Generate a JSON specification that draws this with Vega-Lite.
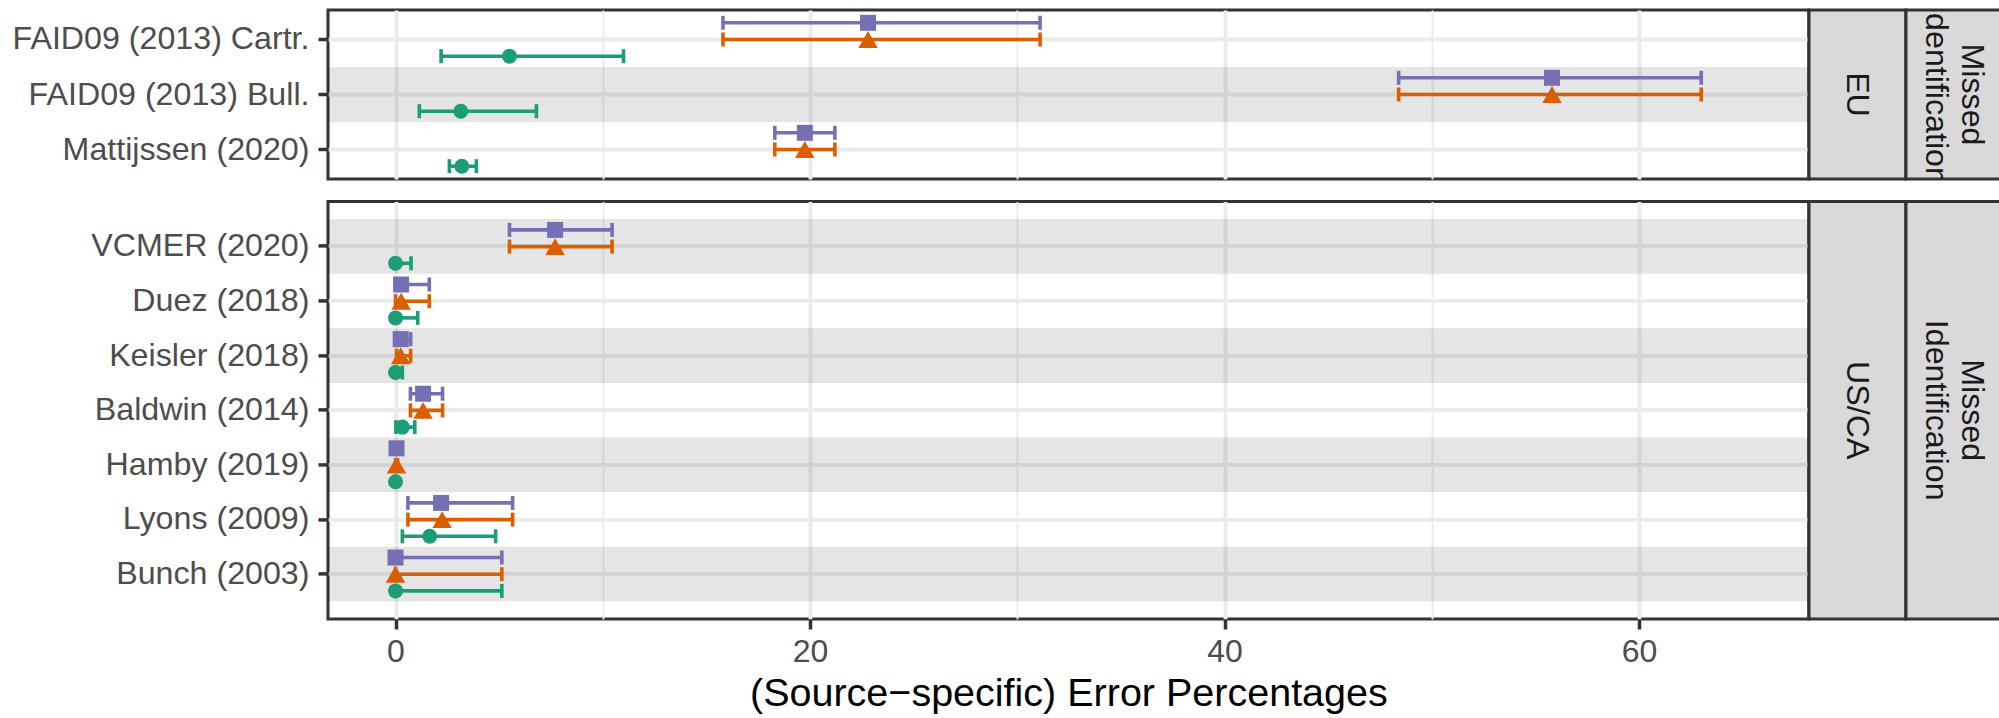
{
  "$schema": "https://vega.github.io/schema/vega-lite/v6.json",
  "padding": {"left": 10, "top": 8, "right": 0, "bottom": 0},
  "config": {
    "font": "Liberation Sans",
    "view": {"stroke": null},
    "text": {"font": "Liberation Sans"}
  },
  "datasets": {
    "errors": [
      {"region": "EU", "study": "FAID09 (2013) Cartr.", "series": "A", "est": 22.8, "lo": 15.8, "hi": 31.1},
      {"region": "EU", "study": "FAID09 (2013) Cartr.", "series": "B", "est": 22.8, "lo": 15.8, "hi": 31.1},
      {"region": "EU", "study": "FAID09 (2013) Cartr.", "series": "C", "est": 5.5, "lo": 2.2, "hi": 11.0},
      {"region": "EU", "study": "FAID09 (2013) Bull.", "series": "A", "est": 55.8, "lo": 48.4, "hi": 63.0},
      {"region": "EU", "study": "FAID09 (2013) Bull.", "series": "B", "est": 55.8, "lo": 48.4, "hi": 63.0},
      {"region": "EU", "study": "FAID09 (2013) Bull.", "series": "C", "est": 3.15, "lo": 1.15, "hi": 6.8},
      {"region": "EU", "study": "Mattijssen (2020)", "series": "A", "est": 19.75, "lo": 18.3, "hi": 21.2},
      {"region": "EU", "study": "Mattijssen (2020)", "series": "B", "est": 19.75, "lo": 18.3, "hi": 21.2},
      {"region": "EU", "study": "Mattijssen (2020)", "series": "C", "est": 3.2, "lo": 2.6, "hi": 3.9},
      {"region": "US/CA", "study": "VCMER (2020)", "series": "A", "est": 7.7, "lo": 5.5, "hi": 10.45},
      {"region": "US/CA", "study": "VCMER (2020)", "series": "B", "est": 7.7, "lo": 5.5, "hi": 10.45},
      {"region": "US/CA", "study": "VCMER (2020)", "series": "C", "est": 0.0, "lo": 0.0, "hi": 0.75},
      {"region": "US/CA", "study": "Duez (2018)", "series": "A", "est": 0.27, "lo": 0.0, "hi": 1.63},
      {"region": "US/CA", "study": "Duez (2018)", "series": "B", "est": 0.27, "lo": 0.0, "hi": 1.63},
      {"region": "US/CA", "study": "Duez (2018)", "series": "C", "est": 0.0, "lo": 0.0, "hi": 1.07},
      {"region": "US/CA", "study": "Keisler (2018)", "series": "A", "est": 0.25, "lo": 0.05, "hi": 0.73},
      {"region": "US/CA", "study": "Keisler (2018)", "series": "B", "est": 0.25, "lo": 0.05, "hi": 0.73},
      {"region": "US/CA", "study": "Keisler (2018)", "series": "C", "est": 0.0, "lo": 0.0, "hi": 0.33},
      {"region": "US/CA", "study": "Baldwin (2014)", "series": "A", "est": 1.33, "lo": 0.72, "hi": 2.27},
      {"region": "US/CA", "study": "Baldwin (2014)", "series": "B", "est": 1.33, "lo": 0.72, "hi": 2.27},
      {"region": "US/CA", "study": "Baldwin (2014)", "series": "C", "est": 0.33, "lo": 0.02, "hi": 0.93},
      {"region": "US/CA", "study": "Hamby (2019)", "series": "A", "est": 0.05, "lo": 0.0, "hi": 0.1},
      {"region": "US/CA", "study": "Hamby (2019)", "series": "B", "est": 0.05, "lo": 0.0, "hi": 0.1},
      {"region": "US/CA", "study": "Hamby (2019)", "series": "C", "est": 0.0, "lo": 0.0, "hi": 0.02},
      {"region": "US/CA", "study": "Lyons (2009)", "series": "A", "est": 2.2, "lo": 0.6, "hi": 5.65},
      {"region": "US/CA", "study": "Lyons (2009)", "series": "B", "est": 2.25, "lo": 0.6, "hi": 5.65},
      {"region": "US/CA", "study": "Lyons (2009)", "series": "C", "est": 1.65, "lo": 0.33, "hi": 4.83},
      {"region": "US/CA", "study": "Bunch (2003)", "series": "A", "est": 0.0, "lo": 0.0, "hi": 5.13},
      {"region": "US/CA", "study": "Bunch (2003)", "series": "B", "est": 0.0, "lo": 0.0, "hi": 5.13},
      {"region": "US/CA", "study": "Bunch (2003)", "series": "C", "est": 0.0, "lo": 0.0, "hi": 5.13}
    ],
    "bandsEU": [{"study": "FAID09 (2013) Bull."}],
    "bandsUS": [{"study": "VCMER (2020)"}, {"study": "Keisler (2018)"}, {"study": "Hamby (2019)"}, {"study": "Bunch (2003)"}]
  },
  "columns": 3,
  "spacing": {"row": 22.4, "column": 0},
  "bounds": "flush",
  "align": "each",
  "concat": [
    {
      "width": 1480.8,
      "height": 169,
      "view": {"fill": "white", "stroke": "#333333", "strokeWidth": 3},
      "layer": [
        {
          "data": {"name": "bandsEU"},
          "mark": {"type": "rect", "fill": "black", "opacity": 0.1},
          "encoding": {
            "y": {"field": "study", "type": "nominal", "sort": null, "title": null,
              "scale": {"domain": ["FAID09 (2013) Cartr.", "FAID09 (2013) Bull.", "Mattijssen (2020)"], "paddingInner": 0, "paddingOuter": 0.036},
              "axis": {"title": null, "zindex": 0, "domain": false, "ticks": true, "tickSize": 10, "tickWidth": 3.5, "tickColor": "#333333", "labelFontSize": 32.2, "labelColor": "#4d4d4d", "labelPadding": 9, "labelLimit": 1000, "grid": true, "gridColor": "#ebebeb", "gridWidth": 3.8, "bandPosition": 0.5}}
          }
        },
        {
          "data": {"name": "errors"},
          "transform": [{"filter": "datum.region === 'EU'"}],
          "encoding": {
            "y": {"field": "study", "type": "nominal", "sort": null, "title": null,
              "scale": {"domain": ["FAID09 (2013) Cartr.", "FAID09 (2013) Bull.", "Mattijssen (2020)"], "paddingInner": 0, "paddingOuter": 0.036},
              "axis": {"title": null, "zindex": 0, "domain": false, "ticks": true, "tickSize": 10, "tickWidth": 3.5, "tickColor": "#333333", "labelFontSize": 32.2, "labelColor": "#4d4d4d", "labelPadding": 9, "labelLimit": 1000, "grid": true, "gridColor": "#ebebeb", "gridWidth": 3.8, "bandPosition": 0.5}},
            "yOffset": {"field": "series", "type": "nominal", "scale": {"domain": ["A", "B", "C"], "paddingInner": 0, "paddingOuter": 0.148}},
            "color": {"field": "series", "type": "nominal", "legend": null, "scale": {"domain": ["A", "B", "C"], "range": ["#7570B3", "#D95F02", "#1B9E77"]}}
          },
          "layer": [
            {
              "mark": {"type": "rule", "strokeWidth": 3.6, "strokeCap": "butt"},
              "encoding": {
                "x": {"field": "lo", "type": "quantitative", "title": null, "scale": {"domain": [-3.257, 68.19], "nice": false, "zero": false},
                  "axis": {"title": null, "zindex": 0, "domain": false, "ticks": false, "labels": false, "grid": true, "values": [0, 10, 20, 30, 40, 50, 60], "gridColor": "#ebebeb", "gridWidth": {"condition": {"test": "datum.value % 20 === 0", "value": 3.8}, "value": 1.9}}},
                "x2": {"field": "hi"}
              }
            },
            {
              "mark": {"type": "tick", "thickness": 3.6, "size": 14, "opacity": 1},
              "encoding": {
                "x": {"field": "lo", "type": "quantitative", "title": null, "scale": {"domain": [-3.257, 68.19], "nice": false, "zero": false},
                  "axis": {"title": null, "zindex": 0, "domain": false, "ticks": false, "labels": false, "grid": true, "values": [0, 10, 20, 30, 40, 50, 60], "gridColor": "#ebebeb", "gridWidth": {"condition": {"test": "datum.value % 20 === 0", "value": 3.8}, "value": 1.9}}}
              }
            },
            {
              "mark": {"type": "tick", "thickness": 3.6, "size": 14, "opacity": 1},
              "encoding": {
                "x": {"field": "hi", "type": "quantitative", "title": null, "scale": {"domain": [-3.257, 68.19], "nice": false, "zero": false},
                  "axis": {"title": null, "zindex": 0, "domain": false, "ticks": false, "labels": false, "grid": true, "values": [0, 10, 20, 30, 40, 50, 60], "gridColor": "#ebebeb", "gridWidth": {"condition": {"test": "datum.value % 20 === 0", "value": 3.8}, "value": 1.9}}}
              }
            },
            {
              "mark": {"type": "point", "filled": true, "opacity": 1, "strokeWidth": 0},
              "encoding": {
                "x": {"field": "est", "type": "quantitative", "title": null, "scale": {"domain": [-3.257, 68.19], "nice": false, "zero": false},
                  "axis": {"title": null, "zindex": 0, "domain": false, "ticks": false, "labels": false, "grid": true, "values": [0, 10, 20, 30, 40, 50, 60], "gridColor": "#ebebeb", "gridWidth": {"condition": {"test": "datum.value % 20 === 0", "value": 3.8}, "value": 1.9}}},
                "shape": {"field": "series", "type": "nominal", "legend": null, "scale": {"domain": ["A", "B", "C"], "range": ["square", "triangle-up", "circle"]}},
                "size": {"field": "series", "type": "nominal", "legend": null, "scale": {"type": "ordinal", "domain": ["A", "B", "C"], "range": [256, 380, 225]}}
              }
            }
          ]
        }
      ]
    },
    {
      "width": 96.8,
      "height": 169,
      "view": {"fill": "#d9d9d9", "stroke": "#333333", "strokeWidth": 3},
      "data": {"values": [{"label": "EU"}]},
      "mark": {"type": "text", "angle": 90, "fontSize": 32.2, "color": "#1a1a1a", "align": "center", "baseline": "middle", "clip": true},
      "encoding": {"text": {"field": "label", "type": "nominal"}}
    },
    {
      "width": 96,
      "height": 169,
      "view": {"fill": "#d9d9d9", "stroke": "#333333", "strokeWidth": 3},
      "data": {"values": [{"label": ["Missed", "Identification"]}]},
      "mark": {"type": "text", "angle": 90, "fontSize": 32.2, "lineHeight": 36, "dy": -18, "color": "#1a1a1a", "align": "center", "baseline": "middle", "clip": true},
      "encoding": {"text": {"field": "label", "type": "nominal"}}
    },
    {
      "width": 1480.8,
      "height": 417.6,
      "view": {"fill": "white", "stroke": "#333333", "strokeWidth": 3},
      "layer": [
        {
          "data": {"name": "bandsUS"},
          "mark": {"type": "rect", "fill": "black", "opacity": 0.1},
          "encoding": {
            "y": {"field": "study", "type": "nominal", "sort": null, "title": null,
              "scale": {"domain": ["VCMER (2020)", "Duez (2018)", "Keisler (2018)", "Baldwin (2014)", "Hamby (2019)", "Lyons (2009)", "Bunch (2003)"], "paddingInner": 0, "paddingOuter": 0.324},
              "axis": {"title": null, "zindex": 0, "domain": false, "ticks": true, "tickSize": 10, "tickWidth": 3.5, "tickColor": "#333333", "labelFontSize": 32.2, "labelColor": "#4d4d4d", "labelPadding": 9, "labelLimit": 1000, "grid": true, "gridColor": "#ebebeb", "gridWidth": 3.8, "bandPosition": 0.5}}
          }
        },
        {
          "data": {"name": "errors"},
          "transform": [{"filter": "datum.region === 'US/CA'"}],
          "encoding": {
            "y": {"field": "study", "type": "nominal", "sort": null, "title": null,
              "scale": {"domain": ["VCMER (2020)", "Duez (2018)", "Keisler (2018)", "Baldwin (2014)", "Hamby (2019)", "Lyons (2009)", "Bunch (2003)"], "paddingInner": 0, "paddingOuter": 0.324},
              "axis": {"title": null, "zindex": 0, "domain": false, "ticks": true, "tickSize": 10, "tickWidth": 3.5, "tickColor": "#333333", "labelFontSize": 32.2, "labelColor": "#4d4d4d", "labelPadding": 9, "labelLimit": 1000, "grid": true, "gridColor": "#ebebeb", "gridWidth": 3.8, "bandPosition": 0.5}},
            "yOffset": {"field": "series", "type": "nominal", "scale": {"domain": ["A", "B", "C"], "paddingInner": 0, "paddingOuter": 0.148}},
            "color": {"field": "series", "type": "nominal", "legend": null, "scale": {"domain": ["A", "B", "C"], "range": ["#7570B3", "#D95F02", "#1B9E77"]}}
          },
          "layer": [
            {
              "mark": {"type": "rule", "strokeWidth": 3.6, "strokeCap": "butt"},
              "encoding": {
                "x": {"field": "lo", "type": "quantitative", "title": "(Source−specific) Error Percentages", "scale": {"domain": [-3.257, 68.19], "nice": false, "zero": false},
                  "axis": {"title": "(Source−specific) Error Percentages", "zindex": 0, "titleFontSize": 39.5, "titleColor": "#000000", "titleFontWeight": "normal", "titlePadding": 7, "domain": false, "ticks": true, "tickSize": 10, "tickWidth": 3.5, "tickColor": "#333333", "tickOpacity": {"condition": {"test": "datum.value % 20 === 0", "value": 1}, "value": 0}, "labelExpr": "datum.value % 20 === 0 ? datum.label : ''", "labelOverlap": false, "labelFlush": false, "labelFontSize": 32, "labelColor": "#4d4d4d", "labelPadding": 7, "values": [0, 10, 20, 30, 40, 50, 60], "grid": true, "gridColor": "#ebebeb", "gridWidth": {"condition": {"test": "datum.value % 20 === 0", "value": 3.8}, "value": 1.9}}},
                "x2": {"field": "hi"}
              }
            },
            {
              "mark": {"type": "tick", "thickness": 3.6, "size": 14, "opacity": 1},
              "encoding": {
                "x": {"field": "lo", "type": "quantitative", "title": "(Source−specific) Error Percentages", "scale": {"domain": [-3.257, 68.19], "nice": false, "zero": false},
                  "axis": {"title": "(Source−specific) Error Percentages", "zindex": 0, "titleFontSize": 39.5, "titleColor": "#000000", "titleFontWeight": "normal", "titlePadding": 7, "domain": false, "ticks": true, "tickSize": 10, "tickWidth": 3.5, "tickColor": "#333333", "tickOpacity": {"condition": {"test": "datum.value % 20 === 0", "value": 1}, "value": 0}, "labelExpr": "datum.value % 20 === 0 ? datum.label : ''", "labelOverlap": false, "labelFlush": false, "labelFontSize": 32, "labelColor": "#4d4d4d", "labelPadding": 7, "values": [0, 10, 20, 30, 40, 50, 60], "grid": true, "gridColor": "#ebebeb", "gridWidth": {"condition": {"test": "datum.value % 20 === 0", "value": 3.8}, "value": 1.9}}}
              }
            },
            {
              "mark": {"type": "tick", "thickness": 3.6, "size": 14, "opacity": 1},
              "encoding": {
                "x": {"field": "hi", "type": "quantitative", "title": "(Source−specific) Error Percentages", "scale": {"domain": [-3.257, 68.19], "nice": false, "zero": false},
                  "axis": {"title": "(Source−specific) Error Percentages", "zindex": 0, "titleFontSize": 39.5, "titleColor": "#000000", "titleFontWeight": "normal", "titlePadding": 7, "domain": false, "ticks": true, "tickSize": 10, "tickWidth": 3.5, "tickColor": "#333333", "tickOpacity": {"condition": {"test": "datum.value % 20 === 0", "value": 1}, "value": 0}, "labelExpr": "datum.value % 20 === 0 ? datum.label : ''", "labelOverlap": false, "labelFlush": false, "labelFontSize": 32, "labelColor": "#4d4d4d", "labelPadding": 7, "values": [0, 10, 20, 30, 40, 50, 60], "grid": true, "gridColor": "#ebebeb", "gridWidth": {"condition": {"test": "datum.value % 20 === 0", "value": 3.8}, "value": 1.9}}}
              }
            },
            {
              "mark": {"type": "point", "filled": true, "opacity": 1, "strokeWidth": 0},
              "encoding": {
                "x": {"field": "est", "type": "quantitative", "title": "(Source−specific) Error Percentages", "scale": {"domain": [-3.257, 68.19], "nice": false, "zero": false},
                  "axis": {"title": "(Source−specific) Error Percentages", "zindex": 0, "titleFontSize": 39.5, "titleColor": "#000000", "titleFontWeight": "normal", "titlePadding": 7, "domain": false, "ticks": true, "tickSize": 10, "tickWidth": 3.5, "tickColor": "#333333", "tickOpacity": {"condition": {"test": "datum.value % 20 === 0", "value": 1}, "value": 0}, "labelExpr": "datum.value % 20 === 0 ? datum.label : ''", "labelOverlap": false, "labelFlush": false, "labelFontSize": 32, "labelColor": "#4d4d4d", "labelPadding": 7, "values": [0, 10, 20, 30, 40, 50, 60], "grid": true, "gridColor": "#ebebeb", "gridWidth": {"condition": {"test": "datum.value % 20 === 0", "value": 3.8}, "value": 1.9}}},
                "shape": {"field": "series", "type": "nominal", "legend": null, "scale": {"domain": ["A", "B", "C"], "range": ["square", "triangle-up", "circle"]}},
                "size": {"field": "series", "type": "nominal", "legend": null, "scale": {"type": "ordinal", "domain": ["A", "B", "C"], "range": [256, 380, 225]}}
              }
            }
          ]
        }
      ]
    },
    {
      "width": 96.8,
      "height": 417.6,
      "view": {"fill": "#d9d9d9", "stroke": "#333333", "strokeWidth": 3},
      "data": {"values": [{"label": "US/CA"}]},
      "mark": {"type": "text", "angle": 90, "fontSize": 32.2, "color": "#1a1a1a", "align": "center", "baseline": "middle", "clip": true},
      "encoding": {"text": {"field": "label", "type": "nominal"}}
    },
    {
      "width": 96,
      "height": 417.6,
      "view": {"fill": "#d9d9d9", "stroke": "#333333", "strokeWidth": 3},
      "data": {"values": [{"label": ["Missed", "Identification"]}]},
      "mark": {"type": "text", "angle": 90, "fontSize": 32.2, "lineHeight": 36, "dy": -18, "color": "#1a1a1a", "align": "center", "baseline": "middle", "clip": true},
      "encoding": {"text": {"field": "label", "type": "nominal"}}
    }
  ]
}
